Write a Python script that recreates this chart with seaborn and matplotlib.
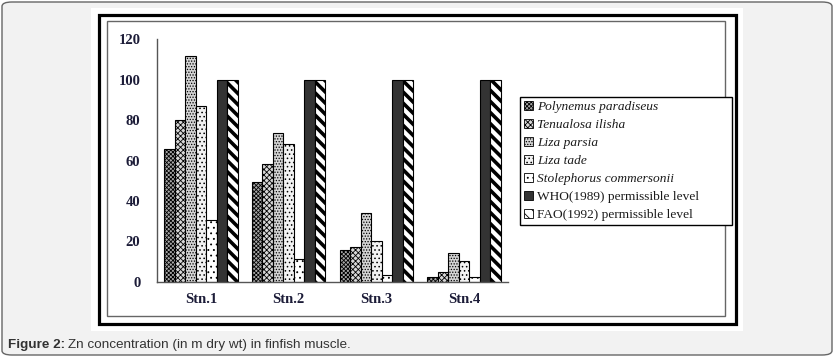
import matplotlib
matplotlib.use("Agg")
import matplotlib.pyplot as plt
from matplotlib.patches import FancyBboxPatch, Rectangle, Patch
import seaborn as sns
import pandas as pd

# ---- data ----
stations = ["Stn.1", "Stn.2", "Stn.3", "Stn.4"]
series_names = ["Polynemus paradiseus", "Tenualosa ilisha", "Liza parsia", "Liza tade",
                "Stolephorus commersonii", "WHO(1989) permissible level",
                "FAO(1992) permissible level"]
polynemus = [65.5, 49.5, 15.5, 2.5]
tenualosa = [80.0, 58.3, 17.0, 4.8]
liza_parsia = [111.5, 73.7, 34.0, 14.3]
liza_tade = [87.2, 68.3, 20.3, 10.2]
stolephorus = [30.3, 11.3, 3.5, 2.3]
who = [100, 100, 100, 100]
fao = [100, 100, 100, 100]
y_ticks = [0, 20, 40, 60, 80, 100, 120]

all_vals = [polynemus, tenualosa, liza_parsia, liza_tade, stolephorus, who, fao]
rows = []
for name, vals in zip(series_names, all_vals):
    for st, v in zip(stations, vals):
        rows.append({"station": st, "series": name, "value": v})
df = pd.DataFrame(rows)

faces = ["#a8a8a8", "#d8d8d8", "#d4d4d4", "#f2f2f2", "#ffffff", "#333333", "#ffffff"]
hatches = ["xxxxxxxx", "xxxxxx", "......", "....", "...", "", "\\\\\\"]
hatch_lw = [0.6, 0.6, 0.6, 0.6, 0.6, 0.6, 2.6]

sns.set_style("white")
plt.rcParams["hatch.linewidth"] = 0.6
W, H = 834, 358
fig = plt.figure(figsize=(W / 100, H / 100), dpi=100)
fig.patch.set_facecolor("white")

def fx(px):
    return px / W

def fy(py):
    return 1 - py / H

# outer rounded grey panel
outer = FancyBboxPatch((fx(2), fy(355)), fx(830), (353) / H,
                       boxstyle="round,pad=0,rounding_size=0.012",
                       transform=fig.transFigure, facecolor="#f2f2f2",
                       edgecolor="#666666", linewidth=1.0, zorder=0)
fig.patches.append(outer)
# white chart image area
fig.patches.append(Rectangle((fx(91), fy(331)), fx(743 - 91), (331 - 8) / H,
                             transform=fig.transFigure, facecolor="white",
                             edgecolor="none", zorder=1))
# thick black frame
fig.patches.append(Rectangle((fx(99), fy(323.5)), fx(736 - 99), (323.5 - 15) / H,
                             transform=fig.transFigure, facecolor="none",
                             edgecolor="black", linewidth=2.3, zorder=2))
# inner thin frame
fig.patches.append(Rectangle((fx(106.5), fy(315.5)), fx(725 - 106.5), (315.5 - 21) / H,
                             transform=fig.transFigure, facecolor="none",
                             edgecolor="#666666", linewidth=1.0, zorder=2))

ax = fig.add_axes([fx(157), fy(281.7), fx(508 - 157), (281.7 - 39.3) / H])
ax.set_facecolor("none")
ax.set_zorder(3)

sns.barplot(data=df, x="station", y="value", hue="series", order=stations,
            hue_order=series_names, palette=faces, width=0.84, dodge=True,
            edgecolor="black", linewidth=0.8, saturation=1, gap=0,
            legend=False, ax=ax, err_kws={"linewidth": 0})

for i, cont in enumerate(ax.containers):
    for bar in cont:
        bar.set_hatch(hatches[i])
        bar.set_facecolor(faces[i])
        if hasattr(bar, "set_hatch_linewidth"):
            bar.set_hatch_linewidth(hatch_lw[i])

ax.set_ylim(0, 120)
ax.set_xlim(-0.5, 3.5)
ax.set_yticks(y_ticks)
ax.set_xticks(range(len(stations)))
ax.set_xticklabels(stations)
ax.set_xticks([-0.5, 0.5, 1.5, 2.5, 3.5], minor=True)
ax.set_xlabel("")
ax.set_ylabel("")
for sp in ["top", "right"]:
    ax.spines[sp].set_visible(False)
for sp in ["left", "bottom"]:
    ax.spines[sp].set_color("#555555")
    ax.spines[sp].set_linewidth(1.0)
ax.tick_params(axis="y", which="major", direction="out", length=5, width=1,
               color="#555555", pad=7)
ax.tick_params(axis="x", which="major", length=0, pad=8)
ax.tick_params(axis="x", which="minor", direction="out", length=3, width=1,
               color="#555555")
for lab in ax.get_yticklabels() + ax.get_xticklabels():
    lab.set_fontfamily("Liberation Serif")
    lab.set_fontweight("bold")
    lab.set_fontsize(10.5)
    lab.set_color("#1c1c38")

handles = []
for i, name in enumerate(series_names):
    p = Patch(facecolor=faces[i], edgecolor="black", hatch=hatches[i],
              linewidth=0.6, label=name)
    handles.append(p)
leg = fig.legend(handles=handles, loc="upper left", mode="expand",
                 bbox_to_anchor=(fx(520), fy(97), fx(732 - 520), 0.0),
                 frameon=True, fancybox=False,
                 edgecolor="black", framealpha=1, borderpad=0.3,
                 handlelength=0.7, handleheight=0.7, handletextpad=0.3,
                 labelspacing=0.42, borderaxespad=0,
                 prop={"family": "Liberation Serif", "size": 9.6})
leg.get_frame().set_linewidth(1.0)
leg.set_zorder(5)
for i, t in enumerate(leg.get_texts()):
    if i < 5:
        t.set_fontstyle("italic")
    t.set_color("#1a1a1a")

# caption
t1 = fig.text(fx(8), fy(348), "Figure 2:", fontfamily="Liberation Sans",
              fontweight="bold", fontsize=9.7, color="#333333", va="baseline")
fig.canvas.draw()
bb = t1.get_window_extent()
fig.text(bb.x1 / W + fx(3), fy(348), "Zn concentration (in m dry wt) in finfish muscle.",
         fontfamily="Liberation Sans", fontsize=9.7, color="#333333", va="baseline")

fig.savefig("out.png", dpi=100)
